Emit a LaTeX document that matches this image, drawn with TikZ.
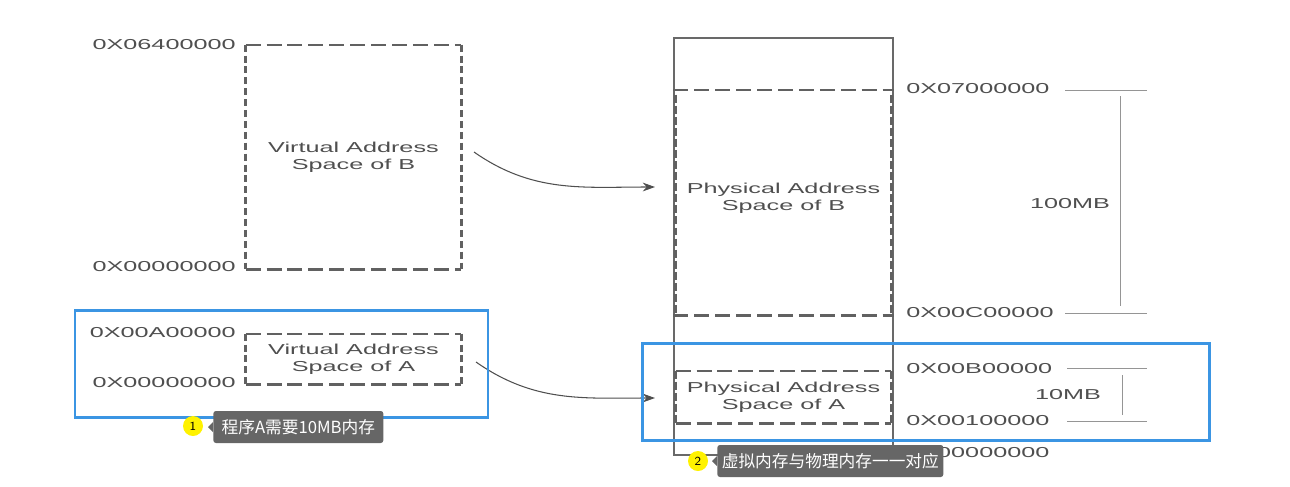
\documentclass[tikz,border=0pt]{standalone}
\usepackage{fontspec}
\usepackage{xcolor}
\usepackage{tikz}
\usetikzlibrary{arrows.meta}
\newfontfamily\diagfont[FakeStretch=1.75]{Liberation Sans}
\newfontfamily\cjkfont{Noto Sans CJK SC}
\definecolor{ink}{HTML}{4F4F4F}
\definecolor{markblue}{HTML}{3B95E3}
\definecolor{tipgray}{HTML}{666666}
\tikzset{
  addr/.style={text=ink,font=\diagfont\fontsize{8.2}{9.6}\selectfont,inner sep=0pt},
  space/.style={text=ink,font=\diagfont\fontsize{8.2}{9.6}\selectfont,align=center,inner sep=0pt},
  hdash/.style={draw=ink!90,line width=1.3pt,dash pattern=on 8.5pt off 3.4pt},
  vdash/.style={draw=ink!90,line width=1.5pt,dash pattern=on 4pt off 2.2pt},
  vthick/.style={draw=ink!90,line width=2pt,dash pattern=on 4.5pt off 1.8pt},
  tick/.style={draw=ink!60,line width=0.5pt},
  mapto/.style={draw=ink,line width=0.6pt,-{Stealth[length=7pt,width=5pt]}},
  hilite/.style={draw=markblue,line width=1.7pt},
  badge/.style={shape=circle,fill=yellow,minimum size=0.4cm,inner sep=0pt,font=\sffamily\scriptsize},
  tip/.style={fill=tipgray,rounded corners=1.5pt,text=white,font=\cjkfont\fontsize{9.5}{11}\selectfont,
    minimum height=0.64cm,anchor=west,inner sep=0pt}
}
\begin{document}
\begin{tikzpicture}
    \useasboundingbox (0,0) rectangle (25.8,-9.72);

    % virtual side
    \node[space,minimum width=4.3cm,minimum height=4.48cm] (vb) at (7.07,-3.14) {Virtual Address\\Space of B};
    \node[space,minimum width=4.3cm,minimum height=1.0cm] (va) at (7.07,-7.18) {Virtual Address\\Space of A};
    \draw[hdash] (vb.north west) -- (vb.north east) (vb.south west) -- (vb.south east);
    \draw[vdash] (vb.north west) -- (vb.south west) (vb.north east) -- (vb.south east);
    \draw[hdash] (va.north west) -- (va.north east) (va.south west) -- (va.south east);
    \draw[vdash] (va.north west) -- (va.south west) (va.north east) -- (va.south east);
    \node[addr,anchor=east] (vbtop) at (4.72,-0.9) {0X06400000};
    \node[addr,anchor=east] (vbbot) at (4.72,-5.34) {0X00000000};
    \node[addr,anchor=east] (vatop) at (4.72,-6.66) {0X00A00000};
    \node[addr,anchor=east] (vabot) at (4.72,-7.66) {0X00000000};

    % physical side
    \node[draw=ink!85,line width=0.6pt,minimum width=4.38cm,minimum height=8.34cm,inner sep=0pt] (mem) at (15.67,-4.93) {};
    \node[space,minimum width=4.3cm,minimum height=4.5cm] (pb) at (15.67,-4.05) {};
    \node[space] (pbtext) at ([yshift=0.08cm]pb.center) {Physical Address\\Space of B};
    \node[space,minimum width=4.3cm,minimum height=1.04cm] (pa) at (15.67,-7.94) {Physical Address\\Space of A};
    \draw[hdash] (pb.north west -| mem.west) -- (pb.north east -| mem.east) (pb.south west -| mem.west) -- (pb.south east -| mem.east);
    \draw[vthick] ([yshift=-0.1cm]pb.north west) -- (pb.south west) ([yshift=-0.1cm]pb.north east) -- (pb.south east);
    \draw[hdash] (pa.north west) -- (pa.north east) (pa.south west) -- (pa.south east);
    \draw[vthick] (pa.north west) -- (pa.south west) (pa.north east) -- (pa.south east);
    \node[addr,anchor=west] (p1) at (18.12,-1.78) {0X07000000};
    \node[addr,anchor=west] (p2) at (18.12,-6.26) {0X00C00000};
    \node[addr,anchor=west] (p3) at (18.12,-7.38) {0X00B00000};
    \node[addr,anchor=west] (p4) at (18.12,-8.42) {0X00100000};
    \node[addr,anchor=west] (p5) at (18.12,-9.06) {0X00000000};
    \node[addr] (big) at (21.4,-4.08) {100MB};
    \node[addr] (small) at (21.36,-7.9) {10MB};

    % size marks
    \draw[tick] (21.3,-1.8) -- (22.94,-1.8);
    \draw[tick] (21.3,-6.26) -- (22.94,-6.26);
    \draw[tick] (22.4,-1.92) -- (22.4,-6.12);
    \draw[tick] (21.34,-7.36) -- (22.94,-7.36);
    \draw[tick] (21.34,-8.42) -- (22.94,-8.42);
    \draw[tick] (22.44,-7.5) -- (22.44,-8.3);

    % mappings
    \coordinate (bfrom) at (9.48,-3.04);
    \coordinate (bto) at (13.1,-3.74);
    \coordinate (afrom) at (9.52,-7.24);
    \coordinate (ato) at (13.1,-7.96);
    \draw[mapto] (bfrom) to[out=-35,in=180] (bto);
    \draw[mapto] (afrom) to[out=-35,in=180] (ato);

    % highlights
    \draw[hilite] (1.5,-6.2) rectangle (9.76,-8.34);
    \draw[hilite] (12.84,-6.86) rectangle (24.18,-8.8);

    % callouts
    \node[badge] (n1) at (3.86,-8.52) {1};
    \node[tip,minimum width=3.4cm] (t1) at (4.26,-8.54) {程序A需要10MB内存};
    \fill[tipgray] ([yshift=0.1cm]t1.west) -- ++(-0.1,-0.1) -- ++(0.1,-0.1) -- cycle;
    \node[badge] (n2) at (13.96,-9.22) {2};
    \node[tip,minimum width=4.52cm] (t2) at (14.34,-9.22) {虚拟内存与物理内存一一对应};
    \fill[tipgray] ([yshift=0.1cm]t2.west) -- ++(-0.1,-0.1) -- ++(0.1,-0.1) -- cycle;
\end{tikzpicture}
\end{document}
